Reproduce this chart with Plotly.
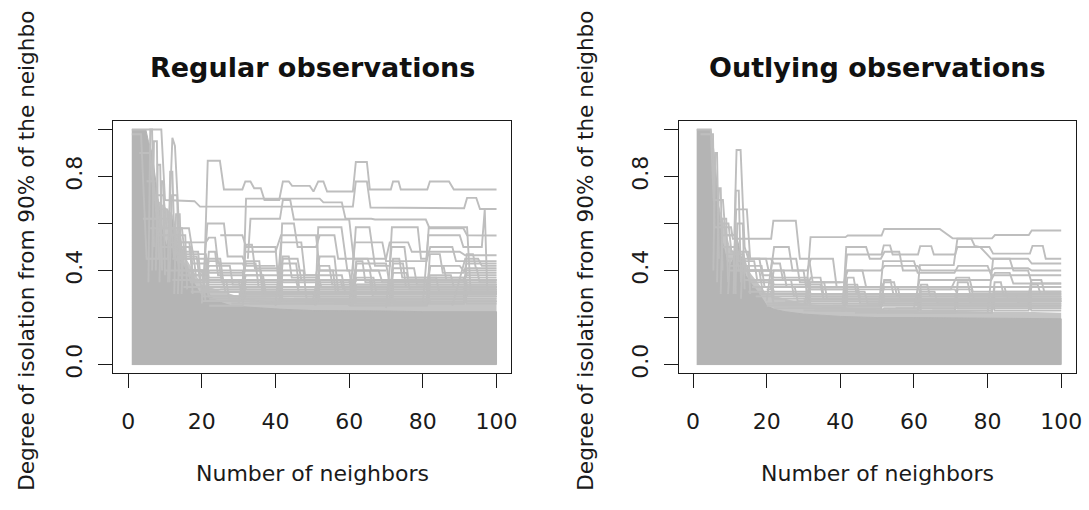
import plotly.graph_objects as go

# ---------------------------------------------------------------------------
# Degree of isolation vs. number of neighbors (k = 1..100)
# Dense body of curves, given as the upper edge of the solid region
# ---------------------------------------------------------------------------
regular_mass_x = [1, 4.8, 5.5, 6.5, 7.5, 8.5, 9.5, 10.5, 11.5, 12.2, 13, 14, 15.5, 17, 18.5,
                  20, 21.5, 23, 25, 28, 32, 36, 42, 50, 60, 70, 80, 90, 100]
regular_mass_y = [1.0, 1.0, 0.95, 0.90, 0.78, 0.65, 0.55, 0.50, 0.58, 0.62, 0.52, 0.46, 0.41,
                  0.37, 0.33, 0.29, 0.31, 0.28, 0.265, 0.25, 0.245, 0.24, 0.235, 0.23, 0.23,
                  0.228, 0.225, 0.225, 0.225]

# looser band of overlapping curves just above the solid body
regular_band_x = [1, 8, 12, 15, 20, 30, 40, 50, 60, 70, 80, 90, 100]
regular_band_y = [1.0, 0.70, 0.64, 0.47, 0.34, 0.29, 0.285, 0.28, 0.28, 0.275, 0.27, 0.27, 0.27]

outlying_mass_x = [1, 4.8, 5.5, 6.2, 7, 8, 9, 10, 11, 11.8, 12.5, 13.3, 14.2, 16, 18, 20, 22,
                   25, 30, 40, 50, 60, 70, 80, 90, 100]
outlying_mass_y = [1.0, 1.0, 0.93, 0.82, 0.65, 0.52, 0.45, 0.42, 0.45, 0.55, 0.50, 0.44, 0.38,
                   0.34, 0.30, 0.25, 0.235, 0.225, 0.215, 0.205, 0.20, 0.20, 0.198, 0.196,
                   0.195, 0.195]

outlying_band_x = [1, 7, 10, 14, 20, 30, 40, 50, 60, 70, 80, 90, 100]
outlying_band_y = [1.0, 0.68, 0.50, 0.42, 0.30, 0.26, 0.245, 0.235, 0.23, 0.23, 0.225, 0.225, 0.22]

# Individual curves standing out above the body: (k, isolation) vertices
regular_paths = [
    [(20.5, 0.30), (21.6, 0.867), (24.9, 0.867), (26.0, 0.745), (31.0, 0.745), (31.8, 0.779),
     (33.2, 0.779), (34.2, 0.75), (36.0, 0.75), (37.0, 0.70), (41.0, 0.70), (42.0, 0.779),
     (43.6, 0.779), (44.5, 0.76), (49.3, 0.76), (50.3, 0.736), (51.6, 0.779), (53.0, 0.779),
     (54.0, 0.736), (61.0, 0.736), (61.8, 0.862), (64.8, 0.862), (65.6, 0.745), (71.3, 0.745),
     (71.9, 0.779), (73.4, 0.779), (74.0, 0.745), (81.2, 0.745), (81.9, 0.779), (87.1, 0.779),
     (88.4, 0.745), (100, 0.745)],
    [(1, 1.0), (9.0, 1.0), (10.0, 0.70), (18.0, 0.695), (19.5, 0.672), (61.0, 0.672),
     (61.8, 0.779), (64.8, 0.779), (65.8, 0.668), (91.2, 0.665), (92.0, 0.709), (94.5, 0.709),
     (95.5, 0.662), (100, 0.662)],
    [(1, 0.98), (3.5, 0.98), (5, 0.45), (10.8, 0.45), (12.0, 0.965), (12.7, 0.93), (14.2, 0.46),
     (16, 0.40), (20, 0.40), (21, 0.36), (30, 0.36), (31, 0.28), (40, 0.26)],
    [(31.2, 0.30), (32.0, 0.706), (52.0, 0.706), (53.0, 0.69), (58.0, 0.69), (59.0, 0.62),
     (66.0, 0.62), (67.0, 0.617), (80.8, 0.617), (81.8, 0.58), (91.0, 0.58), (92.0, 0.55),
     (100, 0.549)],
    [(32.5, 0.45), (33.2, 0.62), (41.2, 0.62), (42.0, 0.70), (44.0, 0.70), (45.0, 0.617),
     (60.0, 0.617), (61.2, 0.45), (65, 0.45), (66, 0.40), (70, 0.40)],
    [(50.8, 0.25), (51.6, 0.584), (57.9, 0.584), (59.5, 0.40), (61, 0.40), (61.8, 0.584),
     (65.5, 0.584), (67, 0.42), (71, 0.42), (71.6, 0.584), (78.6, 0.584), (79.5, 0.45),
     (81, 0.45), (81.6, 0.584), (92, 0.584), (93, 0.30), (100, 0.30)],
    [(41, 0.30), (41.8, 0.60), (45, 0.60), (46, 0.50), (51, 0.50), (52, 0.55), (56, 0.55),
     (57, 0.45), (70, 0.45), (71, 0.52), (76, 0.52), (77, 0.48), (90, 0.48), (91.5, 0.465),
     (100, 0.465)],
    [(60, 0.25), (61.5, 0.52), (69, 0.52), (70, 0.44), (81, 0.44), (82, 0.50), (88, 0.50),
     (89, 0.44), (100, 0.44)],
    [(20, 0.26), (21.5, 0.60), (26, 0.60), (27, 0.46), (31, 0.46), (32, 0.42), (40, 0.42)],
    [(4, 0.62), (11.5, 0.62), (12.5, 0.45), (16, 0.42), (17, 0.35), (19, 0.35)],
    [(5, 0.78), (7, 0.78), (8, 0.55), (14, 0.55), (15, 0.45), (17, 0.45), (18, 0.35)],
    [(3, 0.9), (6, 0.9), (7, 0.7), (8, 0.7), (9, 0.5), (13, 0.5), (14, 0.38), (19, 0.38)],
    [(6, 0.58), (16.5, 0.58), (17.5, 0.48), (19, 0.48), (20, 0.30)],
    [(20, 0.28), (21.5, 0.45), (25, 0.45), (26, 0.33), (41, 0.33), (42, 0.45), (46, 0.45),
     (47, 0.36), (100, 0.36)],
    [(30, 0.26), (31.5, 0.40), (36, 0.40), (37, 0.30), (61, 0.30), (62, 0.43), (70, 0.43),
     (71, 0.34), (100, 0.34)],
    [(40, 0.25), (41.5, 0.52), (47, 0.52), (48, 0.38), (51, 0.38), (52, 0.46), (56, 0.46),
     (57, 0.31), (100, 0.31)],
    [(50, 0.26), (51.5, 0.38), (58, 0.38), (59, 0.30), (81, 0.30), (82, 0.42), (90, 0.42),
     (91, 0.40), (100, 0.40)],
    [(60, 0.25), (61.5, 0.40), (68, 0.40), (69, 0.35), (91, 0.35), (92, 0.39), (100, 0.39)],
    [(70, 0.24), (71.5, 0.50), (75, 0.50), (76, 0.37), (100, 0.37)],
    [(20, 0.30), (22, 0.36), (60, 0.36), (61, 0.28), (71, 0.28), (72, 0.33), (100, 0.33)],
    [(10, 0.40), (20, 0.40), (21, 0.27), (31, 0.27), (32, 0.31), (51, 0.31), (52, 0.27),
     (100, 0.27)],
    [(25, 0.55), (31, 0.55), (32, 0.50), (40, 0.50), (41, 0.30), (50, 0.30)],
    [(32, 0.48), (40, 0.48), (41.5, 0.55), (51, 0.55), (52, 0.40), (60, 0.40), (61, 0.30)],
    [(80, 0.26), (81.5, 0.55), (90, 0.55), (91, 0.50), (96, 0.50), (96.8, 0.66), (97.5, 0.30),
     (100, 0.30)],
    [(88, 0.25), (91.5, 0.45), (95, 0.45), (96, 0.42), (100, 0.42)],
    # narrow spikes among the first neighbors
    [(5.5, 0.35), (6, 1.0), (6.5, 1.0), (7, 0.5)],
    [(6.5, 0.4), (7, 0.95), (7.8, 0.95), (8.2, 0.45)],
    [(7.5, 0.4), (8, 0.85), (8.7, 0.85), (9.2, 0.4)],
    [(8.5, 0.35), (9, 0.78), (9.5, 0.78), (10, 0.38)],
    [(10.8, 0.35), (11.4, 0.82), (12, 0.82), (12.8, 0.4)],
    [(11.2, 0.35), (11.9, 0.72), (13.3, 0.72), (13.8, 0.38)],
    [(12.5, 0.3), (13, 0.64), (14, 0.64), (14.6, 0.36)],
    [(13.5, 0.3), (14, 0.55), (15.5, 0.55), (16, 0.32)],
    [(14.5, 0.3), (15, 0.5), (17, 0.5), (17.5, 0.3)],
]

# Curves in the crowded zone above the body, as level changes:
# (k where the level starts, level); each runs on to k = 100
regular_levels = [
    [(12, 0.45), (21.5, 0.32), (31.5, 0.38), (37, 0.30), (51.5, 0.34), (71.5, 0.29)],
    [(14, 0.40), (21.5, 0.36), (27, 0.28), (41.5, 0.31), (61.5, 0.37), (67, 0.30)],
    [(16, 0.38), (21.5, 0.42), (28, 0.34), (31.5, 0.29), (51.5, 0.36), (58, 0.32), (81.5, 0.38),
     (88, 0.33)],
    [(18, 0.35), (31.5, 0.44), (36, 0.31), (61.5, 0.28), (91.5, 0.32)],
    [(10, 0.50), (17, 0.40), (21.5, 0.29), (41.5, 0.40), (48, 0.28), (71.5, 0.41), (78, 0.34)],
    [(20, 0.27), (31.5, 0.33), (51.5, 0.30), (81.5, 0.29)],
    [(20, 0.31), (21.5, 0.48), (24, 0.38), (41.5, 0.30), (61.5, 0.32), (71.5, 0.36), (91.5, 0.31)],
    [(25, 0.29), (41.5, 0.46), (44, 0.37), (51.5, 0.28), (81.5, 0.34)],
    [(30, 0.27), (31.5, 0.51), (34, 0.41), (41.5, 0.35), (61.5, 0.30), (91.5, 0.36)],
    [(21, 0.34), (41.5, 0.38), (52, 0.33), (61.5, 0.44), (64, 0.35), (81.5, 0.31)],
    [(40, 0.26), (51.5, 0.42), (55, 0.34), (71.5, 0.31), (91.5, 0.28)],
    [(45, 0.28), (61.5, 0.40), (66, 0.33), (81.5, 0.42), (86, 0.36)],
    [(30, 0.30), (51.5, 0.29), (71.5, 0.45), (74, 0.37), (91.5, 0.33)],
    [(22, 0.25), (31.5, 0.36), (41.5, 0.29), (61.5, 0.34), (81.5, 0.27)],
    [(50, 0.26), (61.5, 0.31), (71.5, 0.27), (81.5, 0.36), (91.5, 0.38)],
    [(12, 0.36), (21.5, 0.40), (31.5, 0.32), (41.5, 0.27), (71.5, 0.30)],
    [(35, 0.27), (41.5, 0.43), (46, 0.33), (61.5, 0.27), (71.5, 0.39), (76, 0.32)],
    [(55, 0.27), (71.5, 0.34), (81.5, 0.32), (91.5, 0.30)],
    [(60, 0.25), (81.5, 0.28), (91.5, 0.35)],
    [(20, 0.33), (31.5, 0.30), (51.5, 0.40), (56, 0.30), (91.5, 0.27)],
    [(25, 0.32), (41.5, 0.32), (61.5, 0.29), (71.5, 0.33)],
    [(65, 0.27), (81.5, 0.47), (85, 0.39), (91.5, 0.43)],
    [(70, 0.26), (91.5, 0.47), (94, 0.41)],
    [(10, 0.55), (14, 0.47), (21.5, 0.37), (26, 0.31), (41.5, 0.28)],
    [(13, 0.52), (21.5, 0.54), (24, 0.43), (31.5, 0.40), (41.5, 0.33), (51.5, 0.32)],
    [(15, 0.33), (21.5, 0.29), (41.5, 0.33), (51.5, 0.28), (81.5, 0.31)],
    [(17, 0.31), (31.5, 0.28), (51.5, 0.32), (71.5, 0.28), (91.5, 0.34)],
    [(20, 0.29), (41.5, 0.27), (61.5, 0.31), (81.5, 0.33), (91.5, 0.29)],
    [(22, 0.28), (31.5, 0.31), (41.5, 0.36), (46, 0.30), (71.5, 0.32)],
    [(25, 0.27), (51.5, 0.33), (61.5, 0.36), (66, 0.29), (91.5, 0.31)],
    [(28, 0.26), (41.5, 0.30), (61.5, 0.26), (71.5, 0.35), (81.5, 0.30)],
    [(33, 0.26), (51.5, 0.27), (71.5, 0.29), (91.5, 0.26)],
    [(36, 0.29), (61.5, 0.33), (81.5, 0.26), (91.5, 0.30)],
    [(43, 0.27), (71.5, 0.26), (81.5, 0.37), (84, 0.31)],
    [(48, 0.26), (61.5, 0.28), (91.5, 0.32)],
    [(8, 0.66), (11, 0.52), (17, 0.43), (21.5, 0.39), (31.5, 0.35), (41.5, 0.30)],
    [(9, 0.58), (13, 0.48), (18, 0.38), (21.5, 0.44), (25, 0.35), (31.5, 0.43), (35, 0.33)],
    [(7, 0.72), (10, 0.58), (15, 0.46), (19, 0.36), (21.5, 0.31)],
    [(52, 0.27), (71.5, 0.43), (75, 0.33), (91.5, 0.29)],
    [(56, 0.26), (81.5, 0.35), (91.5, 0.41), (95, 0.35)],
]

outlying_paths = [
    [(30.5, 0.25), (31.9, 0.542), (41.4, 0.542), (42.0, 0.549), (51.2, 0.549), (51.9, 0.577),
     (67.0, 0.577), (70.5, 0.537), (81.2, 0.537), (82.0, 0.551), (91.2, 0.551), (92.0, 0.57),
     (100, 0.57)],
    [(40.6, 0.26), (41.8, 0.468), (51.2, 0.468), (51.8, 0.507), (53.5, 0.507), (54.2, 0.468),
     (61.1, 0.468), (61.7, 0.504), (64.7, 0.504), (65.4, 0.468), (71.2, 0.468), (71.8, 0.50),
     (80.5, 0.50), (81.5, 0.472), (91.5, 0.472), (92.2, 0.505), (95.0, 0.505), (95.8, 0.45),
     (100, 0.45)],
    [(60.6, 0.25), (61.6, 0.423), (70.8, 0.423), (71.8, 0.535), (75.6, 0.535), (76.5, 0.505),
     (78, 0.50), (81.0, 0.45), (91, 0.45), (92, 0.43), (100, 0.43)],
    [(40.8, 0.25), (41.6, 0.40), (51, 0.40), (52, 0.42), (61, 0.42), (62, 0.40), (81, 0.40),
     (82, 0.41), (91, 0.41), (92, 0.40), (100, 0.40)],
    [(1, 1.0), (4.8, 1.0), (5.6, 0.70), (8.1, 0.70), (8.8, 0.55), (11.2, 0.55), (11.8, 0.913),
     (12.9, 0.913), (14.0, 0.50), (15, 0.45), (19.8, 0.45), (20.5, 0.40), (30, 0.40),
     (31, 0.30)],
    [(2, 0.98), (5.4, 0.98), (5.8, 0.584), (10.3, 0.584), (10.8, 0.535), (21.2, 0.535),
     (21.8, 0.612), (27.9, 0.612), (29, 0.45), (31.5, 0.45), (32.5, 0.35), (40, 0.35)],
    [(9, 0.45), (11.2, 0.45), (11.7, 0.66), (14.6, 0.66), (15.5, 0.45), (18, 0.45), (18.8, 0.38),
     (21, 0.38), (22, 0.50), (26, 0.50), (27, 0.40), (31, 0.40), (32, 0.45), (38, 0.45),
     (39, 0.33), (42, 0.33)],
    [(40.8, 0.28), (41.6, 0.50), (47, 0.50), (48, 0.45), (51, 0.45), (52, 0.48), (56, 0.48),
     (57, 0.40), (61, 0.40)],
    [(50.5, 0.25), (51.6, 0.44), (60, 0.44), (61, 0.39), (71, 0.39), (72, 0.42), (80, 0.42),
     (81, 0.38), (100, 0.38)],
    [(20, 0.27), (21.5, 0.45), (28, 0.45), (29, 0.35), (41, 0.35), (42, 0.40), (46, 0.40),
     (47, 0.33), (100, 0.33)],
    [(60, 0.24), (61.5, 0.36), (81, 0.36), (82, 0.39), (86, 0.39), (87, 0.345), (100, 0.345)],
    [(30, 0.25), (31.5, 0.32), (70, 0.32), (71.5, 0.37), (75, 0.37), (76, 0.31), (100, 0.31)],
    [(10, 0.40), (18, 0.40), (19, 0.30), (31, 0.30), (32, 0.27), (100, 0.27)],
    [(80, 0.22), (81.5, 0.45), (86, 0.45), (87, 0.40), (91, 0.40), (92, 0.345), (100, 0.345)],
    # narrow spikes among the first neighbors
    [(5.5, 0.4), (6, 0.9), (6.5, 0.9), (7, 0.45)],
    [(6.5, 0.35), (7, 0.75), (7.5, 0.75), (8, 0.4)],
    [(7.5, 0.3), (8, 0.62), (9, 0.62), (9.5, 0.35)],
    [(11, 0.3), (11.6, 0.74), (12.4, 0.74), (13, 0.35)],
    [(11.5, 0.3), (12, 0.6), (13.5, 0.6), (14, 0.32)],
    [(13, 0.28), (13.5, 0.48), (15, 0.48), (15.5, 0.3)],
    [(9.5, 0.3), (10, 0.45), (11, 0.45), (11.5, 0.3)],
]

outlying_levels = [
    [(12, 0.40), (21.5, 0.30), (31.5, 0.26), (51.5, 0.29), (61.5, 0.25)],
    [(14, 0.36), (21.5, 0.33), (28, 0.27), (41.5, 0.31), (47, 0.26), (71.5, 0.28)],
    [(16, 0.33), (21.5, 0.36), (27, 0.29), (41.5, 0.34), (45, 0.28), (81.5, 0.30), (88, 0.26)],
    [(20, 0.26), (31.5, 0.35), (36, 0.28), (61.5, 0.31), (66, 0.26), (91.5, 0.29)],
    [(10, 0.42), (15, 0.35), (21.5, 0.28), (51.5, 0.33), (56, 0.27), (81.5, 0.27)],
    [(22, 0.24), (41.5, 0.29), (61.5, 0.27), (71.5, 0.32), (76, 0.27)],
    [(25, 0.27), (31.5, 0.30), (51.5, 0.26), (61.5, 0.34), (64, 0.29), (91.5, 0.31)],
    [(30, 0.23), (41.5, 0.37), (44, 0.30), (61.5, 0.23), (81.5, 0.33), (85, 0.28)],
    [(35, 0.24), (51.5, 0.36), (54, 0.30), (71.5, 0.26), (91.5, 0.27)],
    [(40, 0.23), (61.5, 0.30), (71.5, 0.29), (81.5, 0.25)],
    [(18, 0.30), (31.5, 0.28), (41.5, 0.25), (51.5, 0.30), (71.5, 0.24), (91.5, 0.33)],
    [(45, 0.23), (71.5, 0.35), (75, 0.29), (91.5, 0.25)],
    [(20, 0.32), (21.5, 0.40), (25, 0.33), (31.5, 0.37), (35, 0.30), (41.5, 0.27)],
    [(50, 0.22), (81.5, 0.29), (91.5, 0.36), (95, 0.31)],
    [(30, 0.28), (41.5, 0.33), (51.5, 0.35), (55, 0.29), (61.5, 0.28)],
    [(55, 0.24), (61.5, 0.32), (71.5, 0.30), (91.5, 0.30)],
    [(60, 0.22), (81.5, 0.31), (91.5, 0.28)],
    [(13, 0.45), (21.5, 0.43), (24, 0.36), (31.5, 0.33), (51.5, 0.27)],
    [(8, 0.50), (12, 0.40), (21.5, 0.34), (31.5, 0.32), (41.5, 0.29)],
    [(65, 0.23), (71.5, 0.28), (91.5, 0.34), (94, 0.30)],
    [(15, 0.31), (21.5, 0.26), (41.5, 0.28), (61.5, 0.24), (81.5, 0.28)],
    [(17, 0.29), (31.5, 0.25), (51.5, 0.28), (71.5, 0.25), (91.5, 0.30)],
    [(20, 0.25), (41.5, 0.23), (61.5, 0.29), (81.5, 0.27), (91.5, 0.24)],
    [(23, 0.26), (31.5, 0.29), (41.5, 0.32), (45, 0.26), (71.5, 0.27)],
    [(26, 0.24), (51.5, 0.30), (61.5, 0.26), (81.5, 0.24)],
    [(33, 0.23), (51.5, 0.24), (71.5, 0.30), (75, 0.26), (91.5, 0.23)],
    [(38, 0.25), (61.5, 0.27), (81.5, 0.23), (91.5, 0.26)],
    [(44, 0.22), (71.5, 0.23), (81.5, 0.35), (84, 0.29)],
    [(7, 0.60), (10, 0.48), (14, 0.40), (21.5, 0.37), (31.5, 0.30), (41.5, 0.26)],
    [(8, 0.55), (12, 0.44), (17, 0.36), (21.5, 0.31), (31.5, 0.34), (35, 0.28)],
    [(9, 0.47), (14, 0.42), (19, 0.33), (21.5, 0.29)],
    [(53, 0.23), (61.5, 0.25), (91.5, 0.27)],
]

panel_titles = ["Regular observations", "Outlying observations"]
x_title = "Number of neighbors"
y_title = "Degree of isolation from 90% of the neighbo"
x_ticks = [0, 20, 40, 60, 80, 100]
y_ticks = [0.0, 0.2, 0.4, 0.6, 0.8, 1.0]
y_tick_text = ["0.0", "", "0.4", "", "0.8", ""]

# ---------------------------------------------------------------------------
W, H = 1089, 510
MASS = "#B4B4B4"
LINE = "#BEBEBE"
BAND = "#C4C4C4"
FONT = "DejaVu Sans"
K_MAX = 100

fig = go.Figure()


def level_path(levels):
    """Turn (start k, level) pairs into a polyline with short ramps."""
    pts = [levels[0]]
    for (k, lv), (_, prev) in zip(levels[1:], levels[:-1]):
        pts += [(k - 0.4, prev), (k + 0.4, lv)]
    pts.append((K_MAX, levels[-1][1]))
    return pts


def add_panel(xa, ya, mass_x, mass_y, band_x, band_y, paths, levels):
    # light band first, solid body over it, then the individual curves
    fig.add_trace(go.Scatter(x=band_x + [band_x[-1], band_x[0]],
                             y=band_y + [0, 0], xaxis=xa, yaxis=ya,
                             fill="toself", fillcolor=BAND, mode="none",
                             hoverinfo="skip", showlegend=False))
    fig.add_trace(go.Scatter(x=mass_x + [mass_x[-1], mass_x[0]],
                             y=mass_y + [0, 0], xaxis=xa, yaxis=ya,
                             fill="toself", fillcolor=MASS,
                             line=dict(color=MASS, width=1),
                             mode="lines", hoverinfo="skip", showlegend=False))
    for p in [level_path(lv) for lv in levels] + paths:
        fig.add_trace(go.Scatter(x=[v[0] for v in p], y=[v[1] for v in p],
                                 xaxis=xa, yaxis=ya, mode="lines",
                                 line=dict(color=LINE, width=1.9),
                                 hoverinfo="skip", showlegend=False))


add_panel("x", "y", regular_mass_x, regular_mass_y, regular_band_x, regular_band_y,
          regular_paths, regular_levels)
add_panel("x2", "y2", outlying_mass_x, outlying_mass_y, outlying_band_x, outlying_band_y,
          outlying_paths, outlying_levels)

box_top, box_bottom = 122, 377
ydom = [(H - box_bottom) / H, (H - box_top) / H]
left_box = (113.5, 514.3)
right_box = (682.7, 1081.7)

axis_common = dict(showline=True, mirror=True, linecolor="#1a1a1a", linewidth=1.3,
                   ticks="outside", ticklen=14, tickwidth=1.3, tickcolor="#1a1a1a",
                   showgrid=False, zeroline=False,
                   tickfont=dict(family=FONT, size=22, color="#1a1a1a"))

fig.update_layout(
    width=W, height=H, margin=dict(l=0, r=0, t=0, b=0),
    paper_bgcolor="white", plot_bgcolor="white",
    xaxis=dict(domain=[left_box[0] / W, left_box[1] / W], range=[-4.15, 104.05],
               tickvals=x_ticks, anchor="y", ticklabelstandoff=15, **axis_common),
    yaxis=dict(domain=ydom, range=[-0.034, 1.038], tickvals=y_ticks, ticktext=y_tick_text,
               tickangle=-90, anchor="x", ticklabelstandoff=7, **axis_common),
    xaxis2=dict(domain=[right_box[0] / W, right_box[1] / W], range=[-3.85, 103.95],
                tickvals=x_ticks, anchor="y2", ticklabelstandoff=15, **axis_common),
    yaxis2=dict(domain=ydom, range=[-0.034, 1.038], tickvals=y_ticks, ticktext=y_tick_text,
                tickangle=-90, anchor="x2", ticklabelstandoff=7, **axis_common),
)

annotations = []
for (bx0, bx1), title, ylab_x in [(left_box, panel_titles[0], 26),
                                  (right_box, panel_titles[1], 588)]:
    cx = (bx0 + bx1) / 2 / W
    annotations.append(dict(text="<b>%s</b>" % title, x=cx, y=(H - 68) / H,
                            xref="paper", yref="paper", showarrow=False,
                            xanchor="center", yanchor="middle",
                            font=dict(family=FONT, size=27, color="#111111")))
    annotations.append(dict(text=x_title, x=cx, y=(H - 479) / H,
                            xref="paper", yref="paper", showarrow=False,
                            xanchor="center", yanchor="middle",
                            font=dict(family=FONT, size=22, color="#1a1a1a")))
    annotations.append(dict(text=y_title, x=ylab_x / W, y=(H - 254) / H,
                            xref="paper", yref="paper", showarrow=False,
                            textangle=-90, xanchor="center", yanchor="middle",
                            font=dict(family=FONT, size=21.6, color="#1a1a1a")))
fig.update_layout(annotations=annotations)

fig.write_html("out.html")
